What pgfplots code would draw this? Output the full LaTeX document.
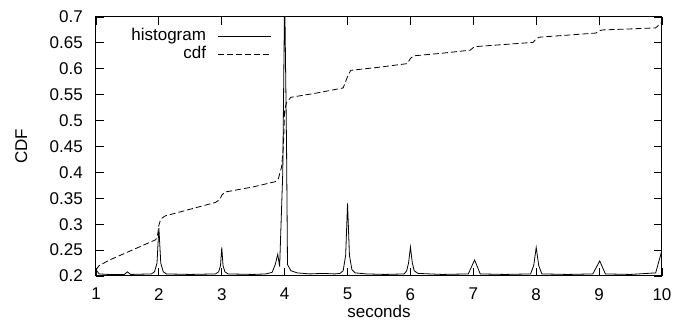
\documentclass[border=0pt]{standalone}
\usepackage{fontspec}
\setmainfont{Liberation Sans}
\usepackage{pgfplots}
\pgfplotsset{compat=1.18}
\begin{document}
\begin{tikzpicture}
\useasboundingbox (-96pt,-52pt) rectangle (577pt,276pt);
\begin{axis}[
  scale only axis,
  width=566pt, height=259pt,
  at={(0pt,0pt)}, anchor=south west,
  xmin=1, xmax=10, ymin=0.2, ymax=0.7,
  xtick={1,2,3,4,5,6,7,8,9,10},
  ytick={0.2,0.25,0.3,0.35,0.4,0.45,0.5,0.55,0.6,0.65,0.7},
  yticklabels={0.2,0.25,0.3,0.35,0.4,0.45,0.5,0.55,0.6,0.65,0.7},
  /pgf/number format/assume math mode=true,
  tick align=inside,
  major tick length=8pt,
  every tick/.style={black, line width=0.8pt},
  axis line style={line width=1pt},
  tick label style={font=\fontsize{17}{20}\selectfont, inner sep=0pt},
  xticklabel shift=12pt,
  yticklabel shift=13pt,
  xlabel={seconds},
  ylabel={CDF},
  label style={font=\fontsize{17}{20}\selectfont, inner sep=0pt},
  xlabel style={at={(axis description cs:0.5,0)}, anchor=base, yshift=-42pt},
  ylabel style={at={(axis description cs:-0.1219,0.5)}, anchor=base, rotate=0},
  legend style={draw=none, fill=none, inner sep=0pt,
    at={(0.311,0.955)}, anchor=north east,
    font=\fontsize{17}{20}\selectfont,
    column sep=12pt, row sep=2pt,
    nodes={inner sep=0pt, text height=12pt, text depth=4pt}},
  legend cell align=right,
  legend plot pos=right,
  legend image code/.code={\draw[#1] plot coordinates {(0pt,0pt) (26pt,0pt) (53pt,0pt)};},
]
\addplot[black, line width=0.8pt] coordinates {
(1.0,0.212) (1.05,0.204) (1.2,0.203) (1.45,0.203) (1.5,0.208) (1.55,0.203)
(1.88,0.204) (1.93,0.208) (1.97,0.225) (2.0,0.293) (2.03,0.225) (2.07,0.208) (2.12,0.204)
(2.5,0.203) (2.9,0.204) (2.95,0.208) (2.98,0.22) (3.0,0.255) (3.02,0.22) (3.05,0.208) (3.1,0.204)
(3.5,0.203) (3.7,0.204) (3.8,0.207) (3.85,0.222) (3.89,0.242) (3.92,0.218)
(3.97,0.40) (4.0,0.75) (4.03,0.45) (4.045,0.222) (4.1,0.21) (4.2,0.206) (4.4,0.204)
(4.6,0.205) (4.8,0.204) (4.88,0.205) (4.93,0.21) (4.97,0.24) (5.0,0.34) (5.03,0.24)
(5.07,0.212) (5.12,0.206) (5.3,0.204) (5.6,0.203)
(5.9,0.204) (5.94,0.21) (5.97,0.225) (6.0,0.256) (6.03,0.225) (6.06,0.21) (6.12,0.205)
(6.5,0.203) (6.92,0.204) (7.02,0.231) (7.11,0.204) (7.5,0.203)
(7.91,0.204) (7.96,0.22) (8.0,0.255) (8.04,0.22) (8.09,0.204) (8.5,0.203)
(8.9,0.204) (9.01,0.229) (9.1,0.204) (9.5,0.203) (9.9,0.206) (10.0,0.25)
};
\addlegendentry{histogram}
\addplot[black, line width=0.8pt, dash pattern=on 6pt off 3pt] coordinates {
(1.0,0.212) (1.05,0.22) (1.2,0.23) (1.5,0.246) (1.8,0.262) (1.95,0.270) (1.98,0.28)
(2.0,0.298) (2.03,0.31) (2.1,0.316) (2.5,0.329) (2.9,0.342) (2.97,0.348) (3.0,0.356)
(3.05,0.362) (3.5,0.372) (3.85,0.382) (3.9,0.388) (3.95,0.41) (3.98,0.45) (4.0,0.52)
(4.03,0.535) (4.1,0.545) (4.5,0.553) (4.93,0.563) (5.0,0.585) (5.05,0.597) (5.5,0.603)
(5.95,0.610) (6.0,0.62) (6.05,0.625) (6.5,0.63) (6.95,0.636) (7.0,0.641) (7.05,0.643)
(7.5,0.647) (7.95,0.651) (8.0,0.658) (8.05,0.661) (8.5,0.665) (8.95,0.669) (9.0,0.673)
(9.05,0.675) (9.5,0.677) (9.9,0.679) (10.0,0.69)
};
\addlegendentry{cdf}
\end{axis}
\end{tikzpicture}
\end{document}
